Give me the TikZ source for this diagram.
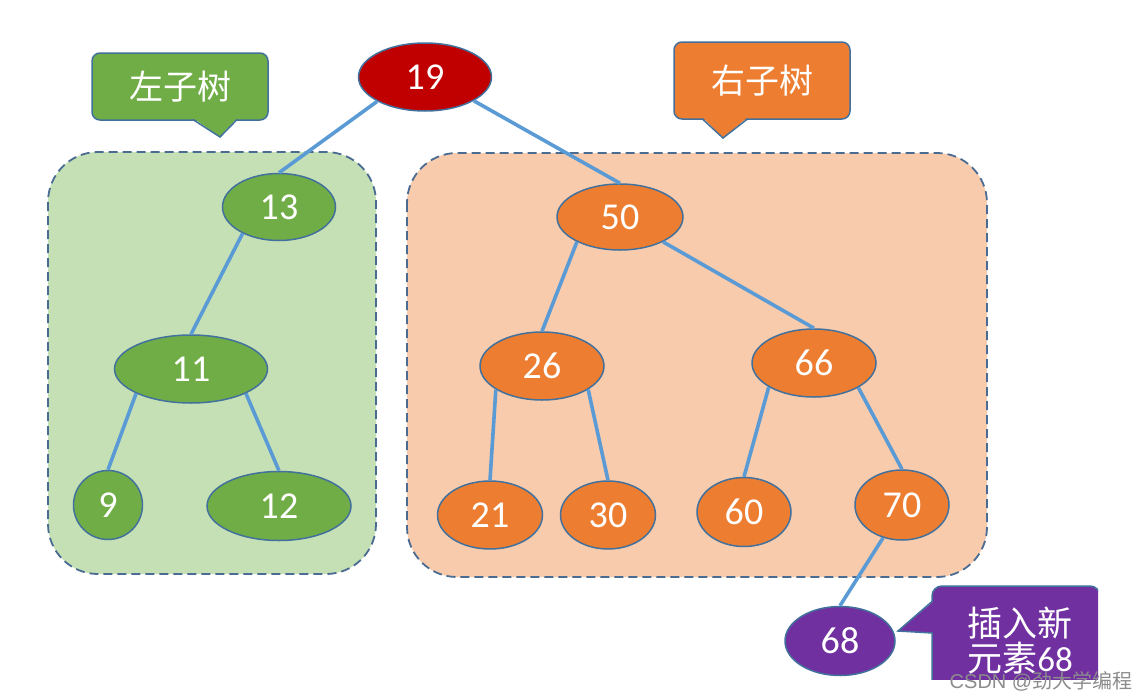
\documentclass[tikz,border=0pt]{standalone}
\usepackage{fontspec}
\setmainfont{Carlito}
\newfontfamily\cjk{Noto Sans CJK SC}
\newfontfamily\wmfont{Liberation Sans}
\usetikzlibrary{shapes.geometric}
\definecolor{rootred}{HTML}{C00000}
\definecolor{leafgreen}{HTML}{70AD47}
\definecolor{twigorange}{HTML}{ED7D31}
\definecolor{newpurple}{HTML}{7030A0}
\definecolor{nodeline}{HTML}{41719C}
\definecolor{edgeblue}{HTML}{5B9BD5}
\definecolor{greenbg}{HTML}{C5E0B4}
\definecolor{orangebg}{HTML}{F8CBAD}
\definecolor{regionline}{HTML}{4A6B92}
\tikzset{
	tnode/.style={ellipse,draw=nodeline,line width=1.5pt,text=white,inner sep=0pt,
		font=\fontsize{38}{40}\selectfont},
	sz/.style 2 args={minimum width=#1pt,minimum height=#2pt},
	rootnode/.style={tnode,fill=rootred},
	lnode/.style={tnode,fill=leafgreen},
	rnode/.style={tnode,fill=twigorange},
	newnode/.style={tnode,fill=newpurple},
	edge/.style={draw=edgeblue,line width=3.6pt},
	region/.style={draw=regionline,line width=1.8pt,dash pattern=on 9pt off 5pt,
		rounded corners=50pt},
	tag/.style={rectangle,rounded corners=8pt,draw=nodeline,line width=1.5pt,
		text=white,font=\cjk\fontsize{34}{36}\selectfont},
	tagline/.style={draw=nodeline,line width=1.5pt}
}
\begin{document}
\begin{tikzpicture}[x=1pt,y=-1pt]
		\useasboundingbox[fill=white] (0,0) rectangle (1144,699);
		% subtree regions
		\draw[region,fill=greenbg] (48,152) rectangle (376,574);
		\draw[region,fill=orangebg] (407,153) rectangle (987,577);
		% labels for the subtrees
		\node[tag,fill=leafgreen,sz={176}{67}] (ltag) at (180,86.5) {左子树};
		\fill[leafgreen] (193,118) -- (220,137) -- (237,118) -- cycle;
		\draw[tagline] (193,119.6) -- (220,137) -- (237,119.6);
		\node[tag,fill=twigorange,sz={176}{77}] (rtag) at (762,80.5) {右子树};
		\fill[twigorange] (702,117) -- (723,138) -- (748,117) -- cycle;
		\draw[tagline] (702,118.6) -- (723,138) -- (748,118.6);
		% label for the new element
		\begin{scope}
			\clip (0,0) rectangle (1098,679);
			\draw[tagline,fill=newpurple,rounded corners=10pt] (932,586) rectangle (1100,730);
			\fill[newpurple] (934,601) -- (898,631) -- (934,633) -- cycle;
			\draw[tagline] (932.6,601) -- (898,631) -- (932.6,633);
			\node[text=white,align=center,font=\fontsize{35}{35}\selectfont,inner sep=0pt]
				(ntxt) at (1020,641) {{\cjk 插入新}\\{\cjk 元素}68};
		\end{scope}
		% tree nodes
		\node[rootnode,sz={133}{68}] (n19) at (425,77) {19};
		\node[lnode,sz={113}{67}] (n13) at (279,207) {13};
		\node[lnode,sz={153}{68}] (n11) at (191,369) {11};
		\node[lnode,sz={69}{69}] (n9) at (108,505) {9};
		\node[lnode,sz={144}{69}] (n12) at (279,506) {12};
		\node[rnode,sz={126}{66}] (n50) at (620,217) {50};
		\node[rnode,sz={124}{68}] (n26) at (542,366) {26};
		\node[rnode,sz={124}{68}] (n66) at (814,363) {66};
		\node[rnode,sz={105}{68}] (n21) at (490,515) {21};
		\node[rnode,sz={95}{68}] (n30) at (608,515) {30};
		\node[rnode,sz={94}{69}] (n60) at (744,512) {60};
		\node[rnode,sz={94}{70}] (n70) at (902,505) {70};
		\node[newnode,sz={110}{69}] (n68) at (840,641) {68};
		% edges
		\draw[edge] (n19.207) -- (n13.north);
		\draw[edge] (n19.334) -- (n50.north);
		\draw[edge] (n13.216) -- (n11.north);
		\draw[edge] (n11.204) -- (n9.north);
		\draw[edge] (n11.336) -- (n12.north);
		\draw[edge] (n50.210) -- (n26.north);
		\draw[edge] (n50.330) -- (n66.north);
		\draw[edge] (n26.207) -- (n21.north);
		\draw[edge] (n26.333) -- (n30.north);
		\draw[edge] (n66.208) -- (n60.north);
		\draw[edge] (n66.331) -- (n70.north);
		\draw[edge] (n70.240) -- (n68.north);
		% watermark
		\node[text=black!45,font=\fontsize{20}{20}\selectfont,inner sep=0pt] (wm) at (1041,681)
			{\wmfont CSDN @{\cjk 劲大学编程}};
	\end{tikzpicture}
\end{document}
